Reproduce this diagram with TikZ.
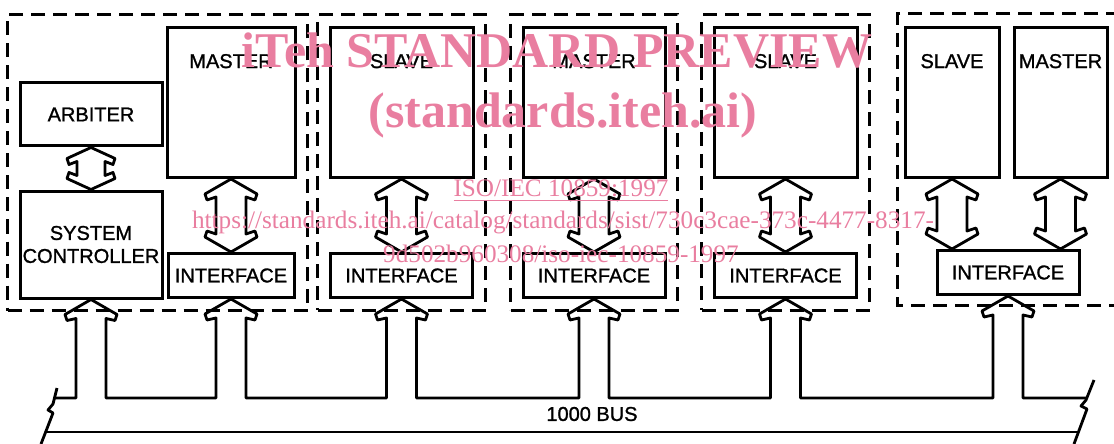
\documentclass[tikz,border=0pt]{standalone}
\usepackage{fontspec}
\setsansfont{Liberation Sans}
\newfontfamily\lblfont{Liberation Sans}[FakeBold=1.2]
\newfontfamily\wmfont{Liberation Serif}
\usetikzlibrary{positioning, calc, fit}
\definecolor{wmpink}{RGB}{233,126,160}
\tikzset{
  box/.style={draw, line width=1.5pt, inner sep=0pt, align=center, font=\lblfont\fontsize{10}{11.5}\selectfont},
  modbox/.style={box, minimum height=75pt},
  ifbox/.style={box, minimum height=22pt, minimum width=71pt},
  modlbl/.style={anchor=north, yshift=-10.5pt, font=\lblfont\fontsize{10}{11.5}\selectfont},
  grp/.style={draw, line width=1.5pt, dash pattern=on 7pt off 4pt, inner sep=5.5pt},
  blockarr/.style={draw, line width=1.4pt, line join=round},
  busline/.style={draw, line width=1.4pt, line join=round},
  buslbl/.style={font=\lblfont\fontsize{10}{11.5}\selectfont},
  wmbig/.style={text=wmpink, anchor=base, font=\wmfont\bfseries\fontsize{25}{25}\selectfont},
  wmsmall/.style={text=wmpink, anchor=base, font=\wmfont\fontsize{12.6}{13}\selectfont},
}
\begin{document}
\begin{tikzpicture}[x=0.5pt, y=-0.5pt]
  \useasboundingbox (0,0) rectangle (1114,444);
  % system controller module
  \node[box, minimum width=71pt, minimum height=31.5pt] (arb) at (91,114.5) {ARBITER};
  \node[box, minimum width=71pt, minimum height=53.5pt, below=21pt of arb] (sc) {SYSTEM\\CONTROLLER};
  \node[modbox, minimum width=64pt, label={[modlbl]north:MASTER}] (m1) at (231,102.5) {};
  \node[ifbox, minimum width=63pt, below=36.5pt of m1] (if1) {INTERFACE};
  % other modules
  \node[modbox, minimum width=71.5pt, label={[modlbl]north:SLAVE}] (s2) at (401.5,102.5) {};
  \node[ifbox, below=36.5pt of s2] (if2) {INTERFACE};
  \node[modbox, minimum width=71pt, label={[modlbl]north:MASTER}] (m3) at (594,102.5) {};
  \node[ifbox, below=36.5pt of m3] (if3) {INTERFACE};
  \node[modbox, minimum width=71.5pt, label={[modlbl]north:SLAVE}] (s4) at (785.5,102.5) {};
  \node[ifbox, below=36.5pt of s4] (if4) {INTERFACE};
  \node[modbox, minimum width=47pt, label={[modlbl]north:SLAVE}] (s5) at (952,102.5) {};
  \node[modbox, minimum width=46.5pt, label={[modlbl]north:MASTER}] (m5) at (1060.5,102.5) {};
  \node[ifbox] (if5) at (1008,272.5) {INTERFACE};

  % dashed module frames
  \node[grp, fit=(arb)(sc)(m1)(if1)] (g1) {};
  \node[grp, fit=(s2)(if2)] (g2) {};
  \node[grp, fit=(m3)(if3)] (g3) {};
  \node[grp, fit=(s4)(if4)] (g4) {};
  \draw[grp] (1120,14) -- (897,14) -- (897,305) -- (1120,305);

  % double arrows inside modules
  \foreach \a/\b/\hw/\sw/\hl in {arb/sc/24/14/11, m1/if1/26/15/15, s2/if2/26/15/15,
      m3/if3/26/15/15, s4/if4/26/15/15, s5/if5/26/15/15, m5/if5/26/15/15}
    \draw[blockarr] (\a.south) -- ($(\a.south)+(\hw,\hl)$) -- ($(\a.south)+(\hw-2,\hl+6)$)
      -- ($(\a.south)+(\sw,\hl+3)$) -- ($(\a.south |- \b.north)+(\sw,-\hl-3)$)
      -- ($(\a.south |- \b.north)+(\hw-2,-\hl-6)$) -- ($(\a.south |- \b.north)+(\hw,-\hl)$)
      -- (\a.south |- \b.north)
      -- ($(\a.south |- \b.north)+(-\hw,-\hl)$) -- ($(\a.south |- \b.north)+(-\hw+2,-\hl-6)$)
      -- ($(\a.south |- \b.north)+(-\sw,-\hl-3)$) -- ($(\a.south)+(-\sw,\hl+3)$)
      -- ($(\a.south)+(-\hw+2,\hl+6)$) -- ($(\a.south)+(-\hw,\hl)$) -- cycle;

  % the bus
  \coordinate (bus) at (0,398);
  \coordinate (lb) at (54.5,398);
  \coordinate (rb) at (1087,398);
  \coordinate (lbb) at (45.6,432);
  \coordinate (rbb) at (1078.5,432);
  \draw[busline] (lb) foreach \n in {sc,if1,if2,if3,if4,if5} {
      -- ($(\n.south |- bus)+(-15,0)$) -- ($(\n.south)+(-15,19)$) -- ($(\n.south)+(-24,21)$)
      -- ($(\n.south)+(-26,15)$) -- (\n.south) -- ($(\n.south)+(26,15)$)
      -- ($(\n.south)+(24,21)$) -- ($(\n.south)+(15,19)$) -- ($(\n.south |- bus)+(15,0)$)
    } -- (rb);
  \draw[busline] (lbb) -- (rbb);
  \draw[busline] (57,388) -- (53,404) -- (48,410) -- (53,413) -- (41,444);
  \draw[busline] (1094,380) -- (1086,400) -- (1081,406) -- (1087,409) -- (1074,444);
  \node[buslbl] (buslabel) at (592,414) {1000 BUS};

  % watermark
  \node[wmbig] (wm1) at (557,68) {iTeh STANDARD PREVIEW};
  \node[wmbig] (wm2) at (563,128) {(standards.iteh.ai)};
  \node[wmsmall] (wm3) at (561,197) {\underline{ISO/IEC 10859:1997}};
  \node[wmsmall] (wm4) at (563,228) {https://standards.iteh.ai/catalog/standards/sist/730c3cae-373c-4477-8317-};
  \node[wmsmall] (wm5) at (561,262) {9d502b960308/iso-iec-10859-1997};
\end{tikzpicture}
\end{document}
